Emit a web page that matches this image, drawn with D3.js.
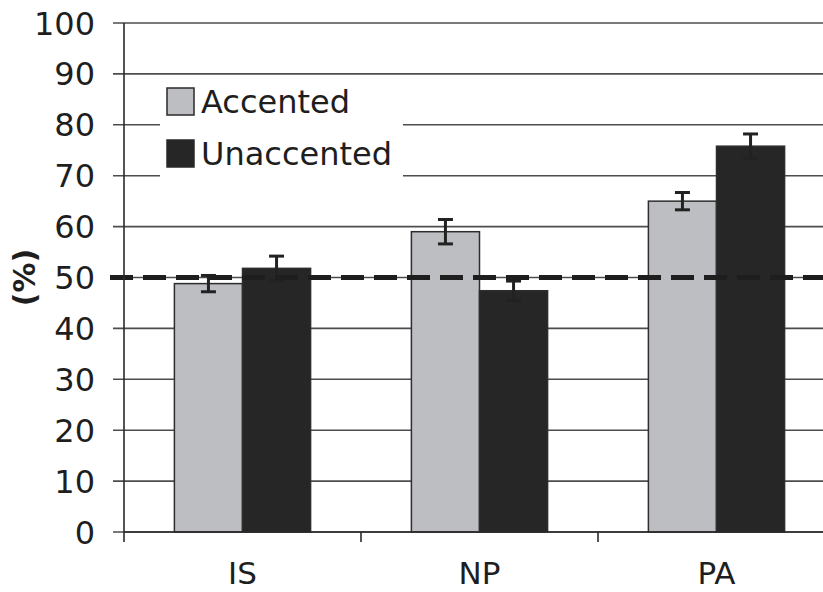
<!DOCTYPE html>
<html>
<head>
<meta charset="utf-8">
<script src="https://cdn.jsdelivr.net/npm/d3@7"></script>
<style>
  html, body { margin: 0; padding: 0; background: #fff; }
  svg { display: block; }
  text { font-family: "DejaVu Sans", Verdana, sans-serif; fill: #1e1e1e; }
</style>
</head>
<body>
<svg id="chart" width="823" height="592"></svg>
<script>
// Categories, series and values (percent) with error-bar half widths
const categories = ["IS", "NP", "PA"];
const seriesNames = ["Accented", "Unaccented"];
const accented = [48.8, 59.0, 65.0];
const unaccented = [51.8, 47.4, 75.8];
const accentedErr = [1.6, 2.4, 1.7];
const unaccentedErr = [2.4, 1.9, 2.4];
const yTicks = [0, 10, 20, 30, 40, 50, 60, 70, 80, 90, 100];
const chanceLevel = 50;
const yLabel = "(%)";

const colors = { Accented: "#bdbec2", Unaccented: "#262626" };

const svg = d3.select("#chart");
const W = 823, H = 592;
const plotLeft = 124, plotTop = 23, plotBottom = 532;

const y = d3.scaleLinear().domain([0, 100]).range([plotBottom, plotTop]);
const x0 = d3.scaleBand().domain(categories).range([plotLeft, plotLeft + 3 * 237]).padding(0);
const x1 = d3.scaleBand().domain(seriesNames).range([0, x0.bandwidth()])
  .paddingInner(0).paddingOuter(0.74);

const rows = categories.map((c, i) => ({
  cat: c,
  vals: [
    { s: "Accented", v: accented[i], e: accentedErr[i] },
    { s: "Unaccented", v: unaccented[i], e: unaccentedErr[i] }
  ]
}));

// Horizontal gridlines with left tick stubs
svg.append("g").selectAll("line").data(yTicks).join("line")
  .attr("x1", plotLeft - 11).attr("x2", W)
  .attr("y1", d => y(d)).attr("y2", d => y(d))
  .attr("stroke", "#4d4d4d").attr("stroke-width", 1.6);

// Y tick labels
svg.append("g").selectAll("text").data(yTicks).join("text")
  .attr("x", 95).attr("y", d => y(d))
  .attr("dy", "0.36em")
  .attr("text-anchor", "end")
  .attr("font-size", 32)
  .text(d => d);

// Legend background (covers gridlines behind it)
const legend = svg.append("g");
legend.append("rect")
  .attr("x", 160).attr("y", 80).attr("width", 243).attr("height", 98)
  .attr("fill", "#fff");
seriesNames.forEach((s, i) => {
  const ly = 88 + i * 52;
  legend.append("rect")
    .attr("x", 167).attr("y", ly).attr("width", 27).attr("height", 27)
    .attr("fill", colors[s]).attr("stroke", "#2a2a2a").attr("stroke-width", 1.5);
  legend.append("text")
    .attr("x", 201).attr("y", ly + 25)
    .attr("font-size", 32)
    .text(s);
});

// Bars
const groups = svg.append("g").selectAll("g").data(rows).join("g")
  .attr("transform", d => `translate(${x0(d.cat)},0)`);

groups.selectAll("rect").data(d => d.vals).join("rect")
  .attr("x", d => x1(d.s))
  .attr("y", d => y(d.v))
  .attr("width", x1.bandwidth())
  .attr("height", d => y(0) - y(d.v))
  .attr("fill", d => colors[d.s])
  .attr("stroke", "#2e2e2e").attr("stroke-width", 1.5);

// Chance-level dashed line
svg.append("line")
  .attr("x1", plotLeft - 14).attr("x2", W)
  .attr("y1", y(chanceLevel)).attr("y2", y(chanceLevel))
  .attr("stroke", "#1e1e1e").attr("stroke-width", 5)
  .attr("stroke-dasharray", "23,10");

// Error bars
const eb = groups.selectAll("g.err").data(d => d.vals).join("g").attr("class", "err");
eb.append("line")
  .attr("x1", d => x1(d.s) + x1.bandwidth() / 2)
  .attr("x2", d => x1(d.s) + x1.bandwidth() / 2)
  .attr("y1", d => y(d.v + d.e)).attr("y2", d => y(d.v - d.e))
  .attr("stroke", "#222").attr("stroke-width", 3);
[1, -1].forEach(sign => {
  eb.append("line")
    .attr("x1", d => x1(d.s) + x1.bandwidth() / 2 - 7.5)
    .attr("x2", d => x1(d.s) + x1.bandwidth() / 2 + 7.5)
    .attr("y1", d => y(d.v + sign * d.e)).attr("y2", d => y(d.v + sign * d.e))
    .attr("stroke", "#222").attr("stroke-width", 3);
});

// Axis lines
svg.append("line")
  .attr("x1", plotLeft).attr("x2", plotLeft)
  .attr("y1", plotTop).attr("y2", plotBottom + 10)
  .attr("stroke", "#2a2a2a").attr("stroke-width", 1.6);
svg.append("line")
  .attr("x1", plotLeft).attr("x2", W)
  .attr("y1", plotBottom).attr("y2", plotBottom)
  .attr("stroke", "#2a2a2a").attr("stroke-width", 1.6);

// Category separator ticks
const sepTicks = categories.map(c => x0(c)).slice(1);
svg.append("g").selectAll("line").data(sepTicks).join("line")
  .attr("x1", d => d).attr("x2", d => d)
  .attr("y1", plotBottom).attr("y2", plotBottom + 10)
  .attr("stroke", "#2a2a2a").attr("stroke-width", 1.6);

// Category labels
svg.append("g").selectAll("text").data(categories).join("text")
  .attr("x", d => x0(d) + x0.bandwidth() / 2)
  .attr("y", 584)
  .attr("text-anchor", "middle")
  .attr("font-size", 31)
  .text(d => d);

// Y axis title
svg.append("text")
  .attr("transform", `translate(35,${y(chanceLevel)}) rotate(-90)`)
  .attr("text-anchor", "middle")
  .attr("font-size", 30)
  .attr("font-weight", "bold")
  .text(yLabel);
</script>
</body>
</html>
